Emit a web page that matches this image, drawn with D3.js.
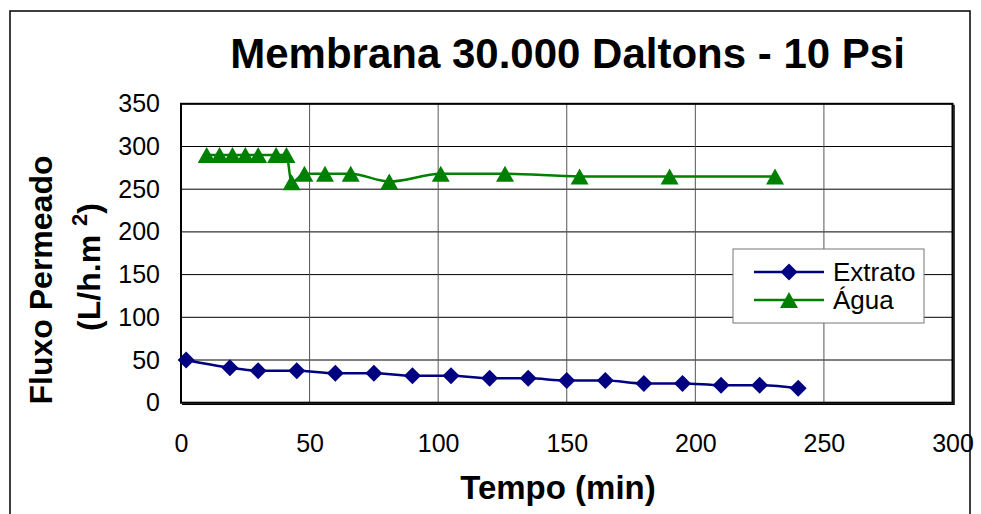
<html>

<head>
    <meta charset="utf-8">
    <script src="https://d3js.org/d3.v7.min.js"></script>
</head>

<body style="margin:0">
    <script>

        // dados
        var extratoTempo = [2, 19, 30, 45, 60, 75, 90, 105, 120, 135, 150, 165, 180, 195, 210, 225, 240];
        var extratoFluxo = [50, 41, 37.5, 37.5, 34.5, 34.5, 31.5, 31.5, 28.5, 28.5, 26, 26, 22.5, 22.5, 20.5, 20.5, 17];
        var aguaTempo = [10, 15, 20, 25, 30, 37, 41, 43, 48, 56, 66, 81, 101, 126, 155, 190, 231];
        var aguaFluxo = [290, 290, 290, 290, 290, 290, 290, 258, 268, 268, 268, 259, 268, 268, 265, 265, 265];
        var xTicks = [0, 50, 100, 150, 200, 250, 300];
        var yTicks = [0, 50, 100, 150, 200, 250, 300, 350];

        var width = 981;
        var height = 514;
        var font = "'Liberation Sans', Arial, sans-serif";

        var svg = d3.select("body").append("svg").attr("width", width).attr("height", height)
            .style("font-family", font);

        svg.append("rect").attr("width", width).attr("height", height).attr("fill", "white");
        // moldura externa
        svg.append("rect").attr("x", 10).attr("y", 11).attr("width", 960).attr("height", 520)
            .attr("fill", "none").attr("stroke", "black").attr("stroke-width", 1.5);

        // escalas
        var xScale = d3.scaleLinear().domain([0, 300]).range([181, 952.5]);
        var yScale = d3.scaleLinear().domain([0, 350]).range([402.7, 103.8]);

        // grade
        svg.append("g").selectAll("line").data(yTicks).enter().append("line")
            .attr("x1", xScale(0)).attr("x2", xScale(300))
            .attr("y1", function(d) { return yScale(d); }).attr("y2", function(d) { return yScale(d); })
            .attr("stroke", "black").attr("stroke-width", 1);
        svg.append("g").selectAll("line").data(xTicks).enter().append("line")
            .attr("x1", function(d) { return xScale(d); }).attr("x2", function(d) { return xScale(d); })
            .attr("y1", yScale(0)).attr("y2", yScale(350))
            .attr("stroke", "#555").attr("stroke-width", 1);

        // eixos
        var xAxis = svg.append("g")
            .attr("transform", "translate(0," + yScale(0) + ")")
            .call(d3.axisBottom(xScale).tickValues(xTicks).tickSize(0).tickPadding(32));
        var yAxis = svg.append("g")
            .attr("transform", "translate(" + (xScale(0) - 21) + ",0)")
            .call(d3.axisLeft(yScale).tickValues(yTicks).tickSize(0).tickPadding(0));
        [xAxis, yAxis].forEach(function(a) {
            a.select(".domain").remove();
            a.selectAll("text").attr("font-family", font).attr("font-size", 25).attr("fill", "black");
        });

        // borda da área de plotagem
        svg.append("rect").attr("x", xScale(0)).attr("y", yScale(350))
            .attr("width", xScale(300) - xScale(0)).attr("height", yScale(0) - yScale(350))
            .attr("fill", "none").attr("stroke", "black").attr("stroke-width", 2);
        svg.append("path")
            .attr("d", "M" + (xScale(300) + 1.5) + "," + (yScale(350) + 1) + "V" + (yScale(0) + 1.5) + "H" + (xScale(0) + 1))
            .attr("fill", "none").attr("stroke", "black").attr("stroke-width", 1.5);

        // séries
        var line = d3.line().curve(d3.curveMonotoneX)
            .x(function(d) { return xScale(d[0]); })
            .y(function(d) { return yScale(d[1]); });

        var extrato = d3.zip(extratoTempo, extratoFluxo);
        var agua = d3.zip(aguaTempo, aguaFluxo);

        var diamond = "M0,-8.5L8.5,0L0,8.5L-8.5,0Z";
        var triangle = "M0,-8L9,8L-9,8Z";

        svg.append("path").datum(extrato).attr("d", line)
            .attr("fill", "none").attr("stroke", "#000080").attr("stroke-width", 2.5);
        svg.append("g").selectAll("path").data(extrato).enter().append("path")
            .attr("d", diamond)
            .attr("transform", function(d) { return "translate(" + xScale(d[0]) + "," + yScale(d[1]) + ")"; })
            .attr("fill", "#000080");

        svg.append("path").datum(agua).attr("d", line)
            .attr("fill", "none").attr("stroke", "#008000").attr("stroke-width", 2.5);
        svg.append("g").selectAll("path").data(agua).enter().append("path")
            .attr("d", triangle)
            .attr("transform", function(d) { return "translate(" + xScale(d[0]) + "," + yScale(d[1]) + ")"; })
            .attr("fill", "#008000");

        // legenda
        var legend = svg.append("g");
        legend.append("rect").attr("x", 733).attr("y", 249).attr("width", 191).attr("height", 74)
            .attr("fill", "white").attr("stroke", "#777").attr("stroke-width", 1);
        var items = [
            { name: "Extrato", color: "#000080", marker: diamond, y: 272 },
            { name: "Água", color: "#008000", marker: triangle, y: 300 }
        ];
        items.forEach(function(it) {
            legend.append("line").attr("x1", 754).attr("x2", 824).attr("y1", it.y).attr("y2", it.y)
                .attr("stroke", it.color).attr("stroke-width", 2.5);
            legend.append("path").attr("d", it.marker)
                .attr("transform", "translate(789," + it.y + ")").attr("fill", it.color);
            legend.append("text").attr("x", 833).attr("y", it.y + 8.5)
                .attr("font-size", 26).text(it.name);
        });

        // títulos
        svg.append("text").attr("x", 567.5).attr("y", 68).attr("text-anchor", "middle")
            .attr("font-size", 42).attr("font-weight", "bold").text("Membrana 30.000 Daltons - 10 Psi");
        svg.append("text").attr("x", 558).attr("y", 499).attr("text-anchor", "middle")
            .attr("font-size", 33).attr("font-weight", "bold").text("Tempo (min)");

        svg.append("text").attr("transform", "translate(52,280) rotate(-90)").attr("text-anchor", "middle")
            .attr("font-size", 32).attr("font-weight", "bold").text("Fluxo Permeado");
        var t2 = svg.append("text").attr("transform", "translate(100,267) rotate(-90)").attr("text-anchor", "middle")
            .attr("font-size", 32).attr("font-weight", "bold");
        t2.append("tspan").text("(L/h.m ");
        t2.append("tspan").attr("dy", -13).attr("font-size", 22).text("2");
        t2.append("tspan").attr("dy", 13).text(")");
    </script>
</body>

</html>
